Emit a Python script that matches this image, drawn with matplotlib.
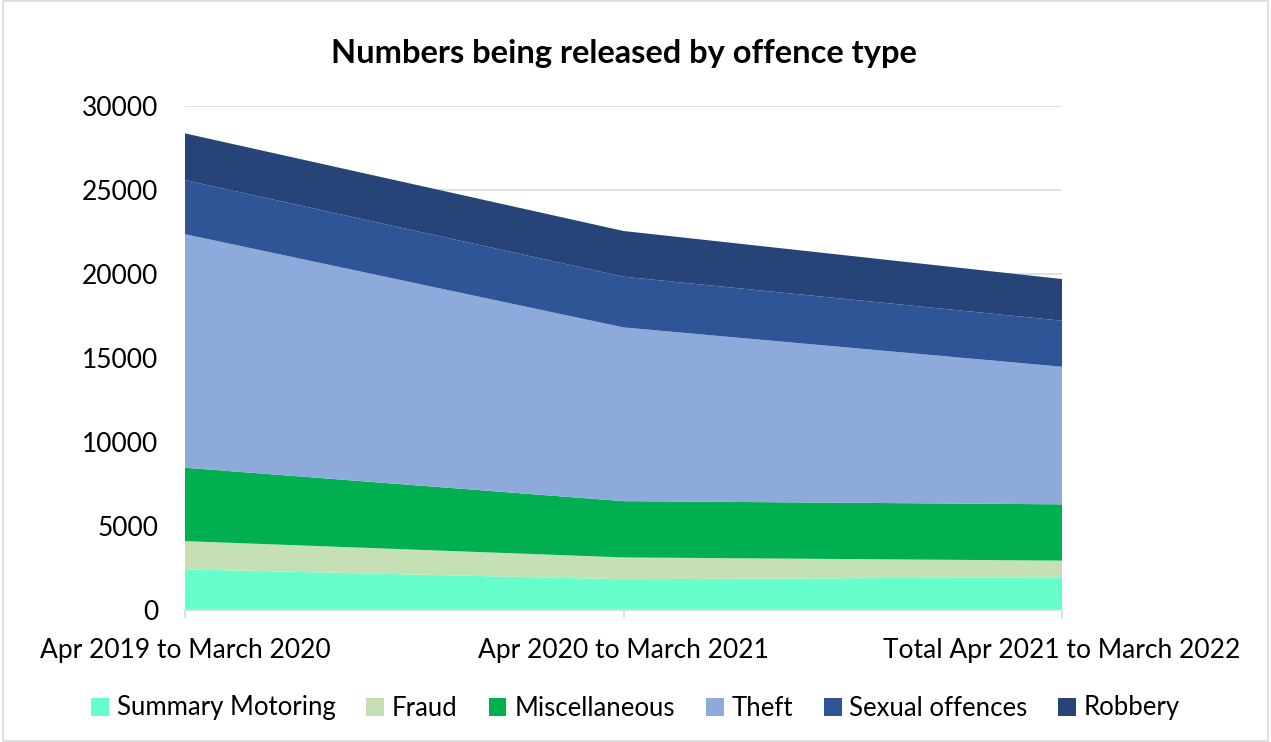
import matplotlib.pyplot as plt
import numpy as np
from matplotlib.patches import Rectangle

plt.rcParams['font.family'] = ['Lato', 'DejaVu Sans']

periods = ['Apr 2019 to March 2020', 'Apr 2020 to March 2021',
           'Total Apr 2021 to March 2022']
summary_motoring = [2420, 1830, 1950]
fraud = [1680, 1300, 990]
miscellaneous = [4370, 3350, 3350]
theft = [13900, 10340, 8190]
sexual_offences = [3220, 3020, 2740]
robbery = [2780, 2720, 2480]

series_names = ['Summary Motoring', 'Fraud', 'Miscellaneous', 'Theft',
                'Sexual offences', 'Robbery']
colors = ['#66ffcc', '#c5e0b4', '#00b050', '#8eaadb', '#2f5597', '#264478']

fig = plt.figure(figsize=(12.71, 7.42), dpi=100)
ax = fig.add_axes([185 / 1271, 1 - 610 / 742, (1062 - 185) / 1271, 504 / 742])

x = np.arange(len(periods))
ax.stackplot(x, summary_motoring, fraud, miscellaneous, theft,
             sexual_offences, robbery, colors=colors, labels=series_names,
             linewidth=0, zorder=2)

ax.set_xlim(0, 2)
ax.set_ylim(0, 30000)
ax.set_yticks(range(0, 30001, 5000))
ax.grid(axis='y', color='#d9d9d9', linewidth=1.2, zorder=0)
ax.set_axisbelow(True)
for s in ['top', 'right', 'left']:
    ax.spines[s].set_visible(False)
ax.spines['bottom'].set_color('#d9d9d9')
ax.spines['bottom'].set_linewidth(1.2)
ax.spines['bottom'].set_zorder(3)

ax.set_xticks(x)
ax.set_xticklabels(periods, fontsize=19)
ax.tick_params(axis='x', length=6, color='#d9d9d9', width=1.2, pad=14)
ax.tick_params(axis='y', length=0, labelsize=19, pad=19)

ax.set_title('Numbers being released by offence type', fontsize=23.5,
             fontweight='bold', pad=31)

fig.legend(*ax.get_legend_handles_labels(), loc='center',
           bbox_to_anchor=(0.5, 1 - 708 / 742), ncol=6, frameon=False,
           fontsize=18.5, handlelength=0.7, handleheight=0.7,
           handletextpad=0.3, columnspacing=1.2)

# outer chart border
fig.patches.append(Rectangle((0.002, 0.002), 0.996, 0.996,
                             transform=fig.transFigure, fill=False,
                             edgecolor='#d9d9d9', linewidth=1.2))

fig.savefig('out.png', dpi=100)
